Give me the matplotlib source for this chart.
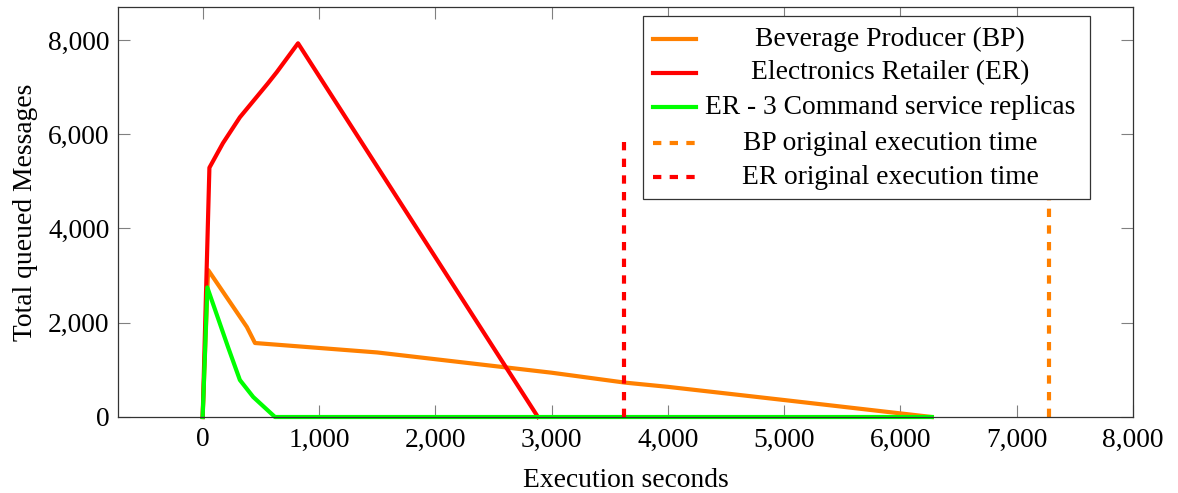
import matplotlib
matplotlib.use("Agg")
import matplotlib.pyplot as plt
from matplotlib.lines import Line2D
from matplotlib.patches import Rectangle
from matplotlib.ticker import FuncFormatter

# ---- data ----
bp_x = [0, 47, 380, 450, 1500, 3000, 3630, 4000, 5000, 6270]
bp_y = [0, 3120, 1910, 1570, 1370, 940, 730, 640, 360, 0]

er_x = [0, 58, 174, 320, 561, 638, 820, 2883]
er_y = [0, 5290, 5810, 6360, 7080, 7320, 7930, 0]

er3_x = [0, 40, 218, 320, 435, 622, 6270]
er3_y = [0, 2750, 1485, 785, 424, 0, 0]

bp_orig_time = 7274
er_orig_time = 3622
orig_line_y = [0, 6000]

labels = ["Beverage Producer (BP)", "Electronics Retailer (ER)",
          "ER - 3 Command service replicas", "BP original execution time",
          "ER original execution time"]
xticks = [0, 1000, 2000, 3000, 4000, 5000, 6000, 7000, 8000]
yticks = [0, 2000, 4000, 6000, 8000]

ORANGE = "#FF8000"
RED = "#FF0000"
GREEN = "#00FF00"

FS = 19.8
plt.rcParams["font.family"] = ["Liberation Serif", "DejaVu Serif"]
plt.rcParams["font.size"] = FS

fig = plt.figure(figsize=(11.78, 4.93), dpi=100)
ax = fig.add_axes([118 / 1178, 1 - 417 / 493, 1015 / 1178, 410 / 493])

lw = 3
ax.plot(bp_x, bp_y, color=ORANGE, lw=lw, clip_on=False)
ax.plot(er_x, er_y, color=RED, lw=lw, clip_on=False)
ax.plot(er3_x, er3_y, color=GREEN, lw=lw, clip_on=False)
dash = (0, (2, 2))
ax.plot([bp_orig_time] * 2, orig_line_y, color=ORANGE, lw=lw, ls=dash, clip_on=False)
ax.plot([er_orig_time] * 2, orig_line_y, color=RED, lw=lw, ls=dash, clip_on=False)

ax.set_xlim(-728, 8000)
ax.set_ylim(0, 8700)
ax.set_xticks(xticks)
ax.set_yticks(yticks)
fmt = FuncFormatter(lambda v, p: f"{int(v):,}")
ax.xaxis.set_major_formatter(fmt)
ax.yaxis.set_major_formatter(fmt)
ax.tick_params(direction="in", length=8.5, width=0.8, color="#808080",
               top=True, right=True, labelsize=FS)
ax.tick_params(axis="x", pad=7.5)
ax.tick_params(axis="y", pad=6)
for s in ax.spines.values():
    s.set_linewidth(0.9)
    s.set_color("#333333")

ax.set_xlabel("Execution seconds", fontsize=FS, labelpad=11)
ax.set_ylabel("Total queued Messages", fontsize=FS, labelpad=7)

# ---- manual legend with centred text ----
W, H = 1015.0, 410.0
def ax_x(px):
    return (px - 118) / W
def ax_y(py):
    return (417 - py) / H

x0, x1 = ax_x(643), ax_x(1090)
y0, y1 = ax_y(199), ax_y(16)
ax.add_patch(Rectangle((x0, y0), x1 - x0, y1 - y0, transform=ax.transAxes,
                       facecolor="white", edgecolor="#333333", lw=0.9, zorder=10))
row_y = [39, 73, 107, 143, 177]
styles = [(ORANGE, "-"), (RED, "-"), (GREEN, "-"), (ORANGE, dash), (RED, dash)]
for (c, ls), lab, ry in zip(styles, labels, row_y):
    ax.add_artist(Line2D([ax_x(653), ax_x(696)], [ax_y(ry), ax_y(ry)],
                         transform=ax.transAxes, color=c, lw=lw, ls=ls, zorder=11))
    ax.text(ax_x(890), ax_y(ry), lab, transform=ax.transAxes, ha="center",
            va="center", fontsize=FS, zorder=12)

fig.savefig("out.png", dpi=100)
